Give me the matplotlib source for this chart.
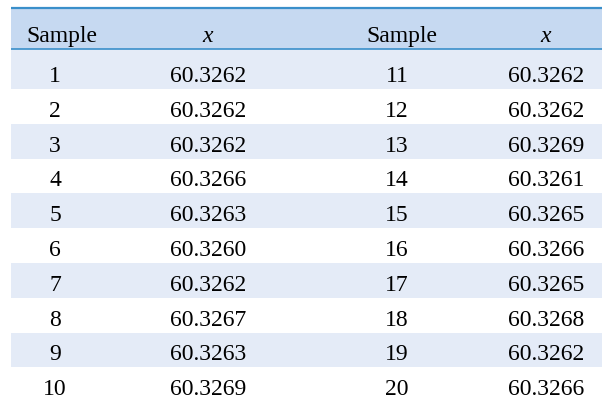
import matplotlib.pyplot as plt
from matplotlib.patches import Rectangle

# Dados da tabela
samples_left = [1, 2, 3, 4, 5, 6, 7, 8, 9, 10]
x_left = ["60.3262", "60.3262", "60.3262", "60.3266", "60.3263",
          "60.3260", "60.3262", "60.3267", "60.3263", "60.3269"]
samples_right = [11, 12, 13, 14, 15, 16, 17, 18, 19, 20]
x_right = ["60.3262", "60.3262", "60.3269", "60.3261", "60.3265",
           "60.3266", "60.3265", "60.3268", "60.3262", "60.3266"]
headers = ["Sample", "x", "Sample", "x"]

# Layout em pixels
W, H = 602, 404
left, right = 11, 602
top, head_bot = 8, 49
row_tops = [49, 89] + [89 + 34.8 * i for i in range(1, 9)]
row_bots = row_tops[1:] + [402]
col_num = [55, 208, 397, 546]
col_head = [62, 208, 402, 546]

header_col = '#c6d9f1'
shade_col = '#e4ebf7'
line_col = '#3a8fca'

fig = plt.figure(figsize=(W / 100, H / 100), dpi=100)
ax = fig.add_axes([0, 0, 1, 1])
ax.set_xlim(0, W)
ax.set_ylim(H, 0)
ax.axis('off')

font = 'Liberation Serif'
fs = 17

# Cabeçalho
ax.add_patch(Rectangle((left, top), right - left, head_bot - top,
                       facecolor=header_col, lw=0, zorder=1))
ax.plot([left, right], [top, top], color=line_col, lw=1.6,
        solid_capstyle='butt', zorder=3)
ax.plot([left, right], [head_bot, head_bot], color=line_col, lw=1.2,
        solid_capstyle='butt', zorder=3)
for x, h in zip(col_head, headers):
    ax.text(x, head_bot - 7, h, ha='center', va='baseline', fontsize=fs,
            family=font, style='italic' if h == 'x' else 'normal')

# Linhas
for i in range(len(samples_left)):
    t, b = row_tops[i], row_bots[i]
    if i % 2 == 0:
        ax.add_patch(Rectangle((left, t), right - left, b - t,
                               facecolor=shade_col, lw=0, zorder=1))
    vals = [str(samples_left[i]), x_left[i], str(samples_right[i]), x_right[i]]
    for x, v in zip(col_num, vals):
        ax.text(x, b - 7, v, ha='center', va='baseline', fontsize=fs, family=font)

fig.savefig('out.png', dpi=100)
